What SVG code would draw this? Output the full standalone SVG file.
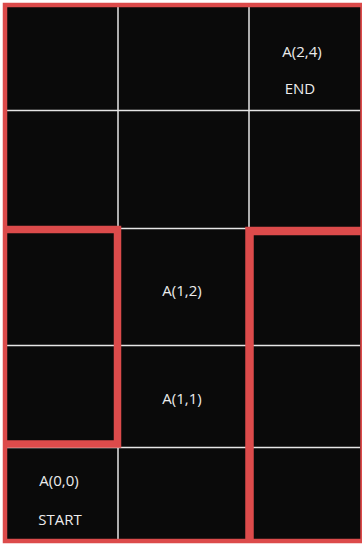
<svg xmlns="http://www.w3.org/2000/svg" width="362" height="544" viewBox="0 0 362 544">
<style>
.cell{fill:#0a0a0a}
.grid{stroke:#e6e6e6;stroke-width:1.5;fill:none}
.red{stroke:#dc4b4b;fill:none;stroke-linejoin:miter}
.lbl{font-family:"Open Sans","Noto Sans",sans-serif;font-size:15px;fill:#ececec;text-anchor:middle}
</style>
<rect x="0" y="0" width="362" height="544" fill="#ffffff"/>
<rect class="cell" x="5" y="5" width="357" height="537"/>
<g id="grid">
<line class="grid" x1="118" y1="5" x2="118" y2="541"/>
<line class="grid" x1="249" y1="5" x2="249" y2="541"/>
<line class="grid" x1="5" y1="110.5" x2="360" y2="110.5"/>
<line class="grid" x1="5" y1="228.5" x2="360" y2="228.5"/>
<line class="grid" x1="5" y1="345.5" x2="360" y2="345.5"/>
<line class="grid" x1="5" y1="447.5" x2="360" y2="447.5"/>
</g>
<g id="outer-border">
<rect class="red" x="5" y="5" width="357.5" height="536" stroke-width="4.5"/>
</g>
<g id="left-box">
<path class="red" d="M5 229.5 H117.5 V444 H5" stroke-width="7.5"/>
</g>
<g id="right-box">
<path class="red" d="M249.5 541 V231 H362" stroke-width="8.5"/>
</g>
<g id="node-A24">
<text class="lbl" x="302" y="57">A(2,4)</text>
<text class="lbl" x="300" y="94">END</text>
</g>
<g id="node-A12">
<text class="lbl" x="182" y="296">A(1,2)</text>
</g>
<g id="node-A11">
<text class="lbl" x="182" y="404">A(1,1)</text>
</g>
<g id="node-A00">
<text class="lbl" x="59" y="486">A(0,0)</text>
<text class="lbl" x="60" y="525">START</text>
</g>
</svg>
